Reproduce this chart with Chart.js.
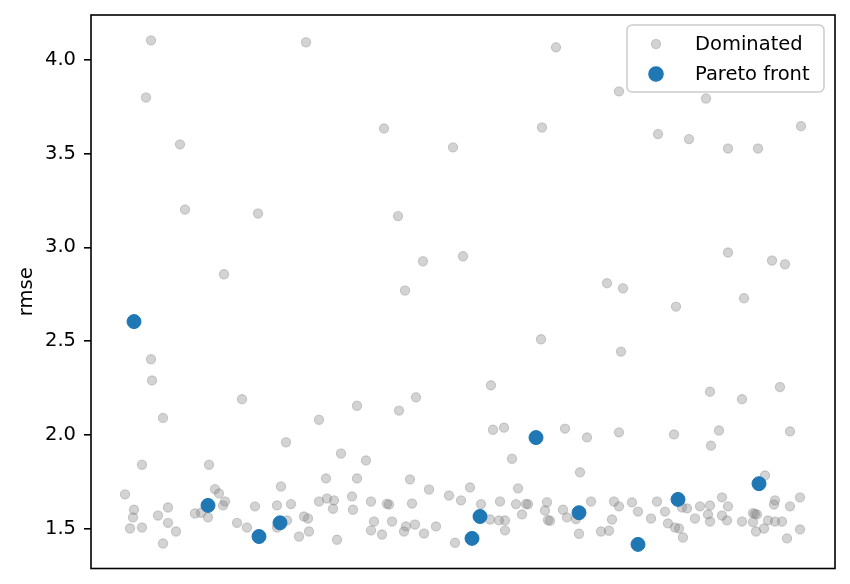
<!DOCTYPE html>
<html>
<head>
<meta charset="utf-8">
<script src="https://cdn.jsdelivr.net/npm/chart.js@4/dist/chart.umd.min.js"></script>
<style>
  html, body { margin: 0; padding: 0; background: #fff; }
  #wrap { width: 850px; height: 584px; }
</style>
</head>
<body>
<div id="wrap"><canvas id="myChart"></canvas></div>
<script>
// x positions have no scale in the original (axis hidden), so they are read in plot units 0..744
const domX = [61, 151, 72, 228, 195, 250, 51, 118, 235, 190, 34, 124, 128, 134, 132, 104, 110, 117, 43, 42,
  39, 51, 77, 67, 77, 85, 72, 146, 156, 164, 186, 200, 196, 186, 208, 218, 213, 217, 228, 236,
  243, 242, 246, 400, 266, 308, 325, 402, 413, 474, 496, 275, 421, 489, 266, 319, 338, 427, 379, 358,
  370, 261, 262, 280, 296, 298, 321, 390, 409, 425, 435, 437, 456, 454, 472, 431, 399, 408, 414, 414,
  457, 459, 476, 485, 488, 283, 301, 315, 313, 324, 280, 291, 333, 345, 364, 619, 651, 689, 528, 583,
  628, 620, 699, 674, 500, 523, 528, 541, 547, 566, 574, 591, 596, 609, 619, 631, 637, 617, 631, 619,
  636, 604, 560, 577, 521, 510, 518, 584, 588, 592, 651, 662, 664, 666, 662, 665, 673, 677, 684, 691,
  684, 683, 699, 709, 709, 696, 94, 167, 133, 60, 307, 332, 372, 314, 450, 637, 681, 694, 516, 532,
  585, 653, 530, 60, 215, 55, 89, 465, 293, 362, 451, 528, 615, 567, 598, 637, 667, 710];
const domY = [2.29, 2.19, 2.09, 2.08, 1.96, 1.90, 1.84, 1.84, 1.767, 1.724, 1.682, 1.71, 1.687, 1.644, 1.623, 1.58, 1.584, 1.56, 1.60, 1.559,
  1.50, 1.505, 1.612, 1.569, 1.53, 1.484, 1.42, 1.53, 1.505, 1.618, 1.623, 1.63, 1.543, 1.505, 1.457, 1.484, 1.564, 1.553, 1.644, 1.66,
  1.65, 1.605, 1.44, 2.264, 2.155, 2.129, 2.20, 2.027, 2.038, 2.033, 1.986, 1.863, 1.872, 1.80, 1.767, 1.762, 1.708, 1.714, 1.719, 1.676,
  1.650, 1.671, 1.60, 1.644, 1.632, 1.628, 1.633, 1.63, 1.644, 1.63, 1.631, 1.629, 1.64, 1.596, 1.60, 1.575, 1.548, 1.543, 1.543, 1.49,
  1.545, 1.541, 1.559, 1.55, 1.472, 1.537, 1.537, 1.511, 1.484, 1.521, 1.49, 1.468, 1.473, 1.511, 1.424, 2.23, 2.19, 2.255, 2.013, 2.002,
  2.023, 1.942, 2.018, 1.783, 1.644, 1.644, 1.618, 1.639, 1.59, 1.644, 1.59, 1.612, 1.607, 1.618, 1.623, 1.666, 1.618, 1.575, 1.569, 1.537,
  1.543, 1.553, 1.553, 1.527, 1.548, 1.484, 1.488, 1.505, 1.50, 1.452, 1.537, 1.582, 1.578, 1.575, 1.534, 1.484, 1.50, 1.543, 1.537, 1.537,
  1.65, 1.628, 1.618, 1.666, 1.495, 1.447, 3.202, 3.181, 2.857, 2.403, 3.167, 2.926, 2.953, 2.77, 2.51, 2.973, 2.93, 2.91, 2.809, 2.782,
  2.684, 2.729, 2.444, 4.105, 4.095, 3.80, 3.55, 4.068, 3.635, 3.534, 3.64, 3.833, 3.795, 3.605, 3.578, 3.528, 3.528, 3.647];
const paretoX = [43, 117, 168, 189, 381, 389, 445, 488, 547, 587, 668];
const paretoY = [2.604, 1.623, 1.457, 1.530, 1.447, 1.564, 1.985, 1.584, 1.415, 1.655, 1.739];
const yTicks = [1.5, 2.0, 2.5, 3.0, 3.5, 4.0];
const seriesNames = ['Dominated', 'Pareto front'];

const grayFill = 'rgba(128,128,128,0.35)';
const blue = '#1f77b4';
const FONT = "'DejaVu Sans', sans-serif";

function toPoints(xs, ys) {
	return xs.map(function (x, i) { return { x: x, y: ys[i] }; });
}

// black box round the plot area, like matplotlib spines
const framePlugin = {
	id: 'frame',
	afterDatasetsDraw(chart) {
		const a = chart.chartArea;
		const ctx = chart.ctx;
		ctx.save();
		ctx.strokeStyle = '#000';
		ctx.lineWidth = 1.6;
		ctx.strokeRect(a.left, a.top, a.right - a.left, a.bottom - a.top);
		ctx.restore();
	}
};

// legend inside the axes, upper right, with a rounded frame
const legendBox = {
	id: 'legendBox',
	afterDraw(chart) {
		const ctx = chart.ctx;
		const x0 = 627, y0 = 25, w = 197, h = 67, r = 5;
		ctx.save();
		ctx.beginPath();
		ctx.roundRect(x0, y0, w, h, r);
		ctx.fillStyle = 'rgba(255,255,255,0.8)';
		ctx.fill();
		ctx.strokeStyle = '#cccccc';
		ctx.lineWidth = 1.5;
		ctx.stroke();

		const rows = [
			{ y: 44, r: 4.6, fill: grayFill, stroke: grayFill, label: seriesNames[0] },
			{ y: 74, r: 7.2, fill: blue, stroke: blue, label: seriesNames[1] }
		];
		rows.forEach(function (row) {
			ctx.beginPath();
			ctx.arc(656, row.y, row.r, 0, Math.PI * 2);
			ctx.fillStyle = row.fill;
			ctx.fill();
			ctx.lineWidth = 1.2;
			ctx.strokeStyle = row.stroke;
			ctx.stroke();
			ctx.fillStyle = '#000';
			ctx.font = '19.5px ' + FONT;
			ctx.textBaseline = 'middle';
			ctx.textAlign = 'left';
			ctx.fillText(row.label, 695, row.y + 1);
		});
		ctx.restore();
	}
};

const ctx = document.getElementById('myChart').getContext('2d');
new Chart(ctx, {
	type: 'scatter',
	data: {
		datasets: [
			{
				label: seriesNames[0],
				data: toPoints(domX, domY),
				backgroundColor: grayFill,
				borderColor: grayFill,
				borderWidth: 1.2,
				pointRadius: 4.6,
				order: 2
			},
			{
				label: seriesNames[1],
				data: toPoints(paretoX, paretoY),
				backgroundColor: blue,
				borderColor: blue,
				borderWidth: 1,
				pointRadius: 7,
				order: 1
			}
		]
	},
	plugins: [framePlugin, legendBox],
	options: {
		animation: false,
		events: [],
		responsive: true,
		maintainAspectRatio: false,
		layout: {
			padding: { left: 0, top: 15, right: 15, bottom: 15.5 }
		},
		plugins: {
			legend: { display: false },
			tooltip: { enabled: false }
		},
		scales: {
			x: {
				type: 'linear',
				display: false,
				min: 0,
				max: 744
			},
			y: {
				type: 'linear',
				min: 1.2863,
				max: 4.2404,
				afterFit: function (scale) {
					scale.width = 91;
					scale.paddingTop = 0;
					scale.paddingBottom = 0;
				},
				afterBuildTicks: function (scale) {
					scale.ticks = yTicks.map(function (v) { return { value: v }; });
				},
				border: { display: false },
				grid: {
					drawOnChartArea: false,
					drawTicks: true,
					tickLength: 7,
					color: '#000',
					lineWidth: 1.6
				},
				ticks: {
					padding: 8,
					color: '#000',
					font: { family: FONT, size: 19.5 },
					callback: function (value) { return Number(value).toFixed(1); }
				},
				title: {
					display: true,
					text: 'rmse',
					color: '#000',
					font: { family: FONT, size: 19.5 },
					padding: { top: 15, bottom: 0 }
				}
			}
		}
	}
});
</script>
</body>
</html>
